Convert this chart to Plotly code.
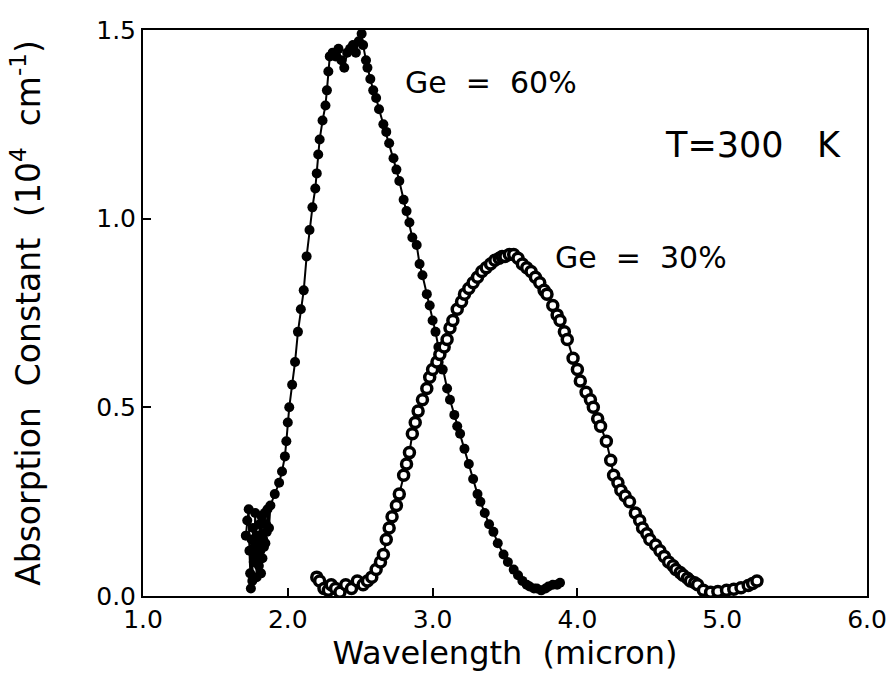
import plotly.graph_objects as go

# Ge = 60 % sample
ge60_wavelength = [1.71, 1.72, 1.73, 1.735, 1.74, 1.745, 1.75, 1.755, 1.76, 1.765, 1.77, 1.775,
                   1.78, 1.785, 1.79, 1.795, 1.80, 1.805, 1.81, 1.815, 1.82, 1.825, 1.83, 1.835,
                   1.84, 1.845, 1.85, 1.855, 1.86, 1.87, 1.88, 1.91,
                   1.94, 1.96, 1.98, 1.99, 2.00, 2.01, 2.03, 2.05, 2.07, 2.09, 2.11, 2.13,
                   2.15, 2.17, 2.19, 2.20, 2.21, 2.22, 2.24, 2.26, 2.27, 2.28, 2.29, 2.31,
                   2.33, 2.35, 2.37, 2.39, 2.41, 2.43, 2.45, 2.47, 2.49, 2.51, 2.52, 2.54,
                   2.55, 2.57, 2.59, 2.61, 2.63, 2.66, 2.68, 2.70, 2.73, 2.75, 2.77, 2.80,
                   2.82, 2.84, 2.86, 2.89, 2.91, 2.93, 2.96, 2.98, 3.00, 3.02, 3.04, 3.07,
                   3.10, 3.12, 3.15, 3.17, 3.19, 3.22, 3.25, 3.28, 3.31, 3.33, 3.36, 3.39,
                   3.42, 3.45, 3.49, 3.52, 3.56, 3.59, 3.62, 3.65, 3.67, 3.70, 3.72, 3.75,
                   3.78, 3.80, 3.83, 3.86, 3.88]
ge60_absorption = [0.16, 0.20, 0.23, 0.12, 0.06, 0.02, 0.15, 0.04, 0.18, 0.09, 0.13, 0.22,
                   0.11, 0.05, 0.16, 0.10, 0.08, 0.19, 0.12, 0.06, 0.21, 0.10, 0.15, 0.13,
                   0.22, 0.14, 0.19, 0.17, 0.23, 0.18, 0.24, 0.27,
                   0.30, 0.33, 0.37, 0.41, 0.46, 0.50, 0.56, 0.62, 0.70, 0.76, 0.81, 0.90,
                   0.97, 1.03, 1.08, 1.12, 1.17, 1.21, 1.26, 1.30, 1.34, 1.39, 1.43, 1.44,
                   1.43, 1.45, 1.42, 1.40, 1.44, 1.45, 1.46, 1.44, 1.47, 1.49, 1.46, 1.42,
                   1.40, 1.37, 1.34, 1.32, 1.29, 1.25, 1.23, 1.20, 1.16, 1.13, 1.10, 1.05,
                   1.02, 0.99, 0.95, 0.93, 0.88, 0.85, 0.80, 0.77, 0.73, 0.70, 0.66, 0.60,
                   0.55, 0.52, 0.48, 0.45, 0.43, 0.39, 0.35, 0.31, 0.27, 0.25, 0.22, 0.19,
                   0.17, 0.14, 0.11, 0.09, 0.07, 0.055, 0.04, 0.03, 0.025, 0.02, 0.02, 0.015,
                   0.02, 0.025, 0.03, 0.03, 0.035]

# Ge = 30 % sample
ge30_wavelength = [2.20, 2.22, 2.25, 2.28, 2.30, 2.33, 2.36, 2.40, 2.44, 2.48, 2.52, 2.55,
                   2.58, 2.61, 2.64, 2.66, 2.68, 2.70, 2.72, 2.75, 2.77, 2.80, 2.82, 2.84,
                   2.86, 2.88, 2.90, 2.93, 2.96, 2.98, 3.00, 3.03, 3.05, 3.08, 3.10, 3.12,
                   3.14, 3.17, 3.20, 3.22, 3.25, 3.28, 3.31, 3.34, 3.37, 3.40, 3.43, 3.46,
                   3.48, 3.50, 3.53, 3.56, 3.59, 3.62, 3.65, 3.68, 3.71, 3.74, 3.77, 3.79,
                   3.83, 3.86, 3.88, 3.91, 3.93, 3.97, 4.00, 4.02, 4.06, 4.09, 4.11, 4.14,
                   4.16, 4.20, 4.23, 4.25, 4.28, 4.30, 4.33, 4.36, 4.40, 4.43, 4.45, 4.48,
                   4.50, 4.54, 4.57, 4.60, 4.63, 4.66, 4.68, 4.71, 4.73, 4.76, 4.78, 4.81,
                   4.83, 4.87, 4.92, 4.97, 5.03, 5.08, 5.13, 5.18, 5.21, 5.24]
ge30_absorption = [0.05, 0.04, 0.02, 0.015, 0.03, 0.02, 0.01, 0.03, 0.02, 0.04, 0.03, 0.04,
                   0.05, 0.07, 0.09, 0.11, 0.15, 0.18, 0.21, 0.24, 0.27, 0.32, 0.35, 0.38,
                   0.43, 0.46, 0.49, 0.52, 0.55, 0.58, 0.60, 0.62, 0.64, 0.66, 0.68, 0.71,
                   0.73, 0.76, 0.78, 0.80, 0.815, 0.83, 0.845, 0.86, 0.87, 0.88, 0.89, 0.895,
                   0.90, 0.90, 0.905, 0.905, 0.895, 0.88, 0.87, 0.86, 0.845, 0.83, 0.81, 0.80,
                   0.77, 0.745, 0.73, 0.70, 0.68, 0.63, 0.60, 0.57, 0.54, 0.52, 0.50, 0.47,
                   0.45, 0.41, 0.36, 0.32, 0.30, 0.28, 0.265, 0.25, 0.22, 0.20, 0.18, 0.165,
                   0.15, 0.135, 0.12, 0.105, 0.09, 0.08, 0.07, 0.062, 0.055, 0.047, 0.04, 0.035,
                   0.03, 0.015, 0.01, 0.012, 0.015, 0.018, 0.022, 0.028, 0.033, 0.04]

x_ticks = [1.0, 2.0, 3.0, 4.0, 5.0, 6.0]
x_tick_labels = ["1.0", "2.0", "3.0", "4.0", "5.0", "6.0"]
y_ticks = [0.0, 0.5, 1.0, 1.5]
y_tick_labels = ["0.0", "0.5", "1.0", "1.5"]

FONT = "DejaVu Sans"

fig = go.Figure()
fig.add_trace(go.Scatter(
    x=ge60_wavelength, y=ge60_absorption, mode="lines+markers",
    line=dict(color="black", width=2),
    marker=dict(symbol="circle", size=10, color="black", line=dict(width=0)),
    showlegend=False))
fig.add_trace(go.Scatter(
    x=ge30_wavelength, y=ge30_absorption, mode="lines+markers",
    line=dict(color="black", width=2),
    marker=dict(symbol="circle", size=10, color="white", line=dict(color="black", width=3.5)),
    showlegend=False))

fig.add_annotation(x=3.40, y=1.36, text="Ge  =  60%", showarrow=False,
                   font=dict(family=FONT, size=30, color="black"))
fig.add_annotation(x=4.44, y=0.897, text="Ge  =  30%", showarrow=False,
                   font=dict(family=FONT, size=30, color="black"))
fig.add_annotation(x=5.21, y=1.196, text="T=300   K", showarrow=False,
                   font=dict(family=FONT, size=35, color="black"))

fig.update_layout(
    width=887, height=675,
    margin=dict(l=143, r=20, t=30, b=79, autoexpand=False),
    paper_bgcolor="white", plot_bgcolor="white",
    font=dict(family=FONT, color="black"),
)
fig.update_xaxes(
    range=[1.0, 6.0], tickvals=x_ticks, ticktext=x_tick_labels,
    ticks="inside", ticklen=8, tickwidth=2, tickcolor="black",
    showline=True, linewidth=2, linecolor="black", mirror=True,
    showgrid=False, zeroline=False, automargin=False,
    tickfont=dict(family=FONT, size=25, color="black"),
    title=dict(text="Wavelength  (micron)", font=dict(family=FONT, size=32, color="black"),
               standoff=4),
)
fig.update_yaxes(
    range=[0.0, 1.5], tickvals=y_ticks, ticktext=y_tick_labels,
    ticks="inside", ticklen=8, tickwidth=2, tickcolor="black",
    showline=True, linewidth=2, linecolor="black", mirror=True,
    showgrid=False, zeroline=False, automargin=False,
    tickfont=dict(family=FONT, size=25, color="black"),
    title=dict(text="Absorption  Constant  (10<sup>4</sup>  cm<sup>-1</sup>)",
               font=dict(family=FONT, size=33, color="black"), standoff=46),
)

fig.write_html("out.html")
